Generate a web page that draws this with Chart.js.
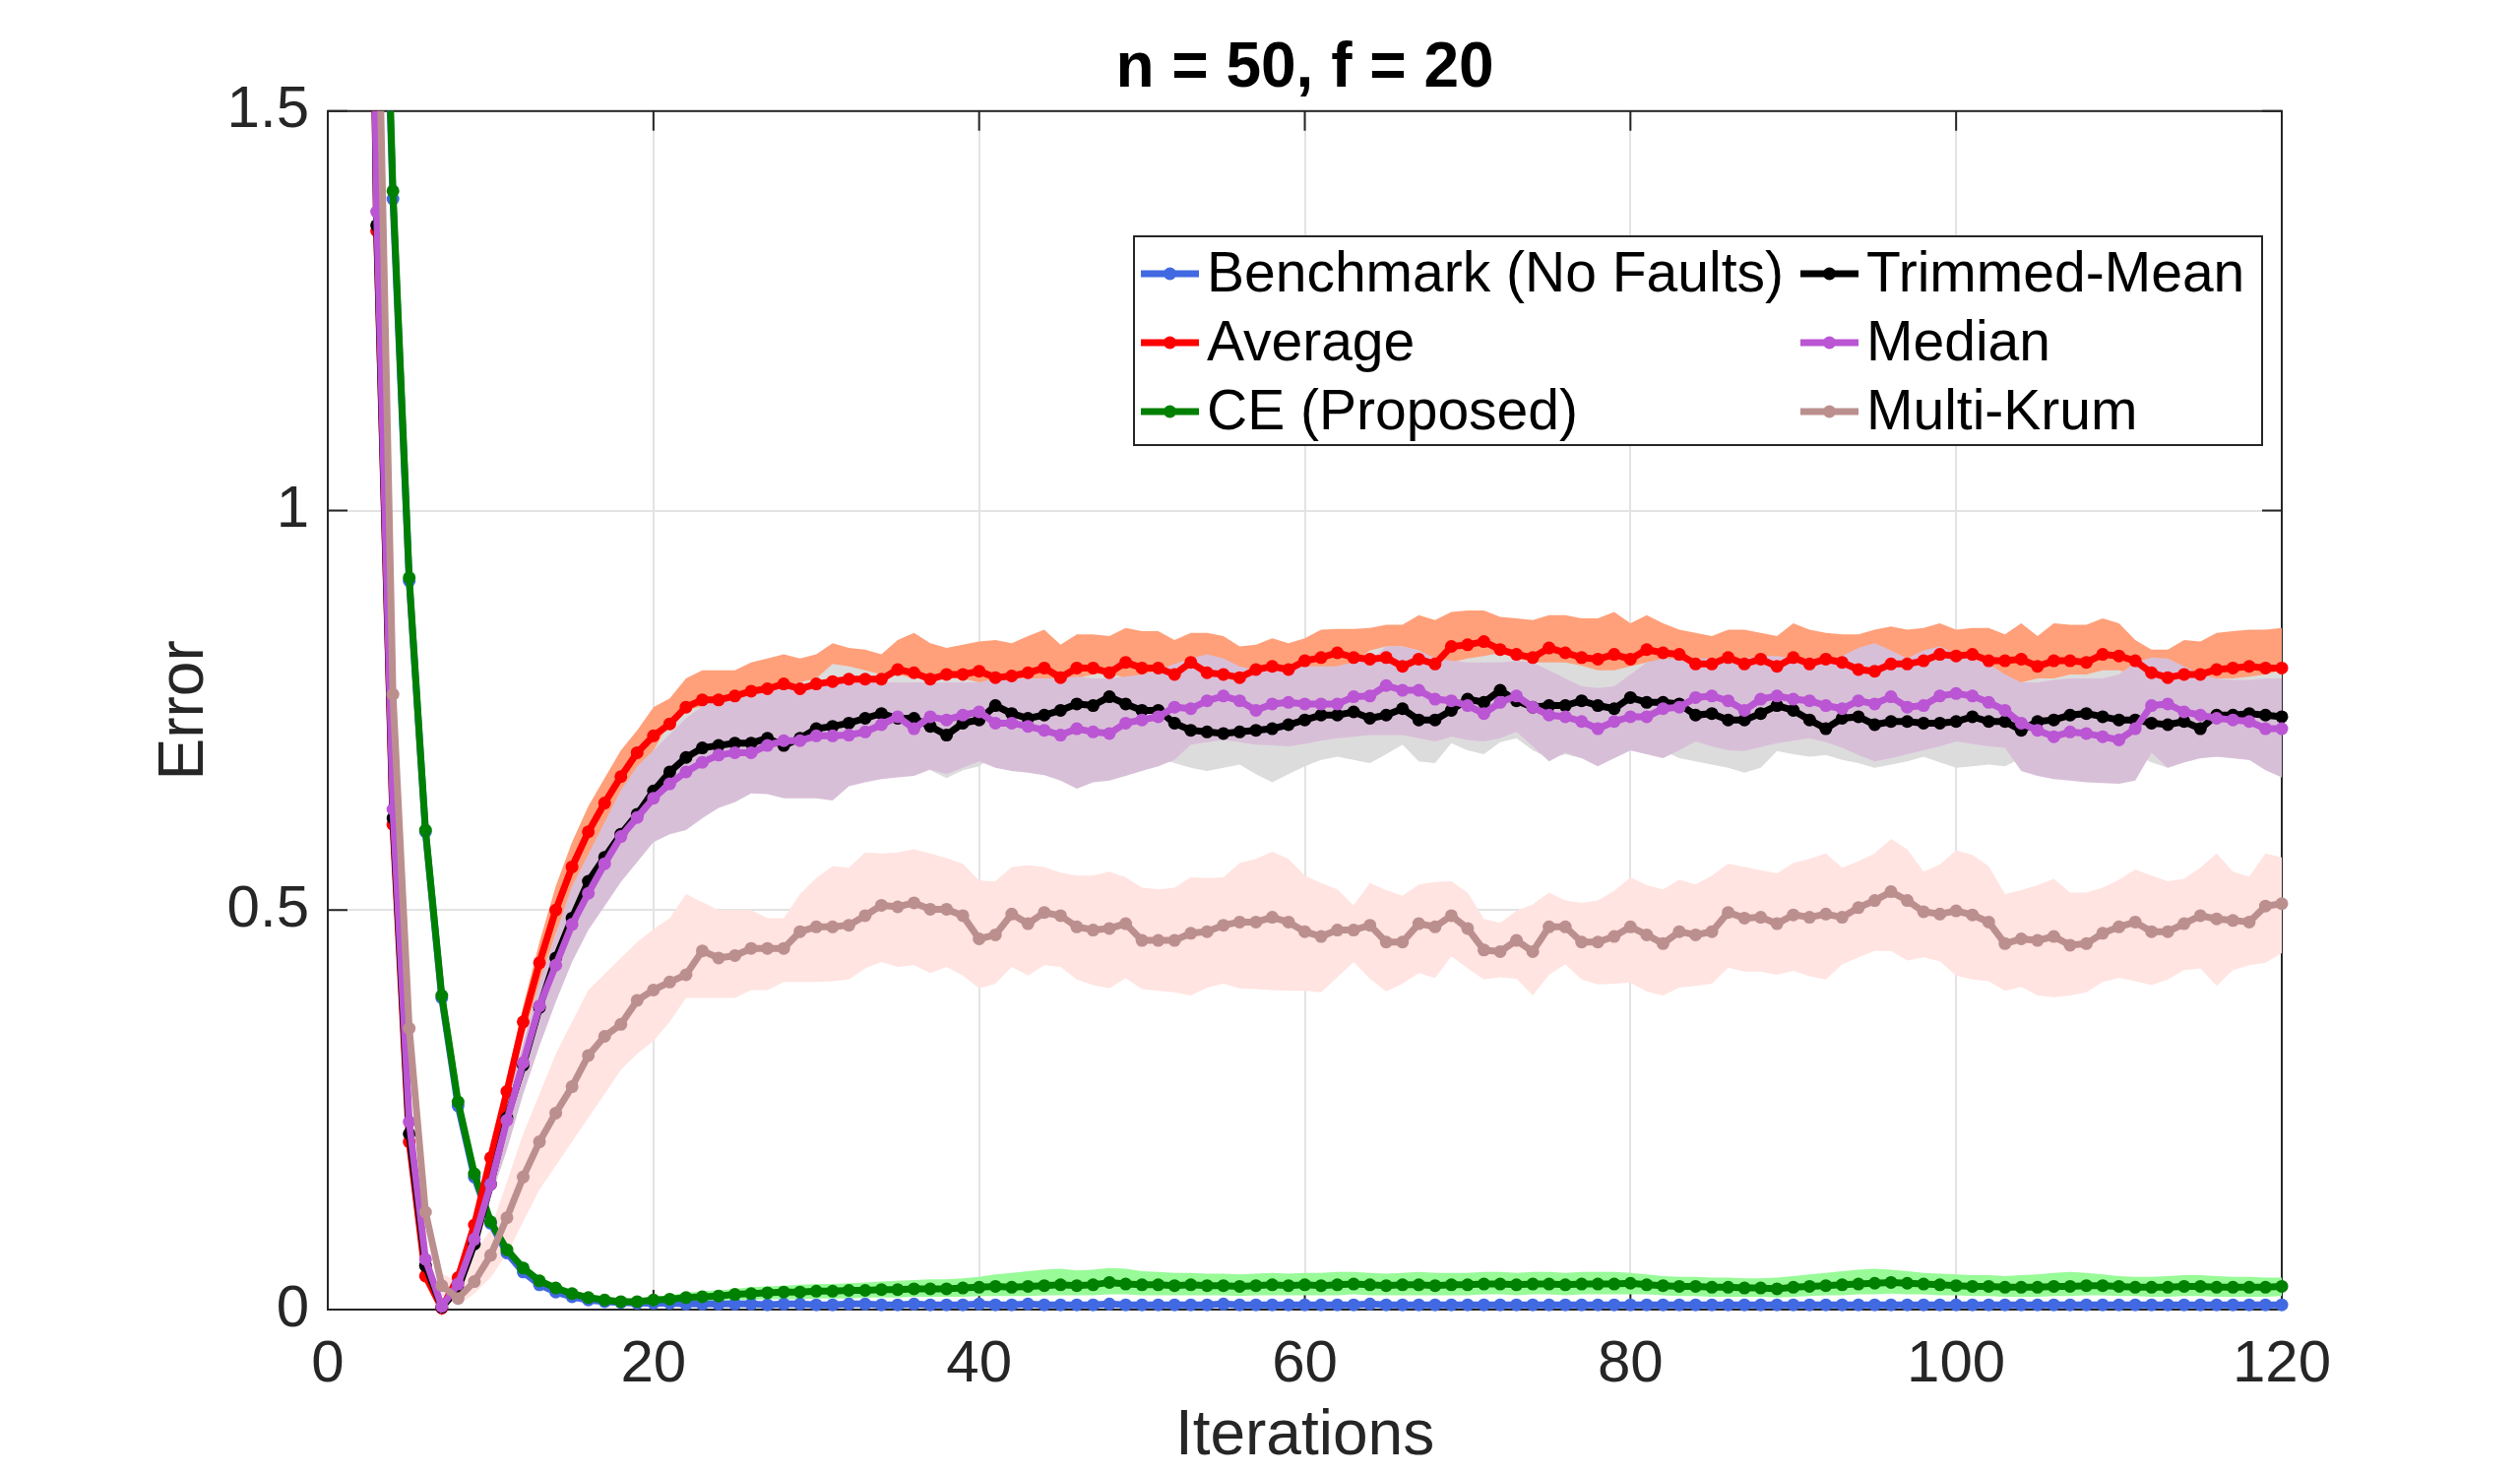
<!DOCTYPE html>
<html>
<head>
<meta charset="utf-8">
<script src="https://cdn.jsdelivr.net/npm/chart.js@4.4.1/dist/chart.umd.min.js"></script>
<style>
html,body{margin:0;padding:0;background:#fff;}
#wrap{position:relative;width:2560px;height:1498px;}
</style>
</head>
<body>
<div id="wrap"><canvas id="c"></canvas></div>
<script>
// ---------------- DATA ----------------
const chartTitle = 'n = 50, f = 20';
const xTitle = 'Iterations';
const yTitle = 'Error';
const xTickLabels = ['0', '20', '40', '60', '80', '100', '120'];
const yTickLabels = ['0', '0.5', '1', '1.5'];
const iterations = Array.from({length: 120}, (_, i) => i + 1);

const benchmark = [
4.6, 3.1, 2.05, 1.39, 0.912, 0.598, 0.39, 0.255, 0.166, 0.108,
0.071, 0.047, 0.031, 0.022, 0.016, 0.012, 0.010, 0.009, 0.008, 0.008,
0.008, 0.007, 0.007, 0.007, 0.007, 0.007, 0.006, 0.007, 0.007, 0.006,
0.006, 0.007, 0.007, 0.006, 0.006, 0.007, 0.006, 0.006, 0.006, 0.007,
0.006, 0.006, 0.007, 0.006, 0.006, 0.006, 0.006, 0.007, 0.006, 0.006,
0.006, 0.006, 0.006, 0.006, 0.007, 0.006, 0.006, 0.006, 0.006, 0.006,
0.006, 0.006, 0.006, 0.007, 0.006, 0.006, 0.006, 0.006, 0.006, 0.006,
0.006, 0.006, 0.006, 0.006, 0.006, 0.006, 0.006, 0.006, 0.006, 0.006,
0.006, 0.006, 0.006, 0.006, 0.006, 0.006, 0.006, 0.006, 0.006, 0.006,
0.006, 0.006, 0.006, 0.006, 0.006, 0.006, 0.006, 0.006, 0.006, 0.006,
0.006, 0.006, 0.006, 0.006, 0.006, 0.006, 0.006, 0.006, 0.006, 0.006,
0.006, 0.006, 0.006, 0.006, 0.006, 0.006, 0.006, 0.006, 0.006, 0.006];

const average = [
4.5, 2.9, 1.35, 0.607, 0.21, 0.042, 0.002, 0.04, 0.106, 0.19,
0.273, 0.36, 0.434, 0.5, 0.554, 0.598, 0.634, 0.667, 0.697, 0.718,
0.733, 0.754, 0.763, 0.763, 0.768, 0.774, 0.777, 0.783, 0.777, 0.783,
0.786, 0.789, 0.789, 0.789, 0.801, 0.797, 0.789, 0.795, 0.795, 0.799,
0.791, 0.793, 0.797, 0.803, 0.791, 0.803, 0.803, 0.797, 0.81, 0.803,
0.803, 0.795, 0.81, 0.797, 0.795, 0.791, 0.801, 0.805, 0.801, 0.812,
0.816, 0.822, 0.816, 0.814, 0.816, 0.805, 0.814, 0.808, 0.83, 0.832,
0.836, 0.826, 0.82, 0.816, 0.828, 0.822, 0.816, 0.814, 0.82, 0.814,
0.826, 0.822, 0.82, 0.808, 0.808, 0.816, 0.808, 0.814, 0.805, 0.816,
0.808, 0.814, 0.81, 0.801, 0.799, 0.808, 0.808, 0.812, 0.82, 0.818,
0.82, 0.812, 0.812, 0.814, 0.805, 0.812, 0.812, 0.81, 0.82, 0.818,
0.812, 0.797, 0.791, 0.795, 0.795, 0.801, 0.803, 0.805, 0.803, 0.803];

const averageUpper = [
4.52, 2.92, 1.36, 0.612, 0.215, 0.047, 0.006, 0.048, 0.118, 0.205,
0.29, 0.38, 0.46, 0.53, 0.585, 0.63, 0.665, 0.70, 0.725, 0.754,
0.765, 0.79, 0.80, 0.80, 0.80, 0.81, 0.815, 0.82, 0.815, 0.82,
0.834, 0.828, 0.826, 0.82, 0.838, 0.847, 0.834, 0.828, 0.832, 0.836,
0.838, 0.834, 0.843, 0.851, 0.832, 0.845, 0.845, 0.843, 0.853, 0.849,
0.849, 0.838, 0.847, 0.847, 0.843, 0.83, 0.832, 0.84, 0.834, 0.84,
0.851, 0.852, 0.852, 0.853, 0.857, 0.857, 0.869, 0.863, 0.873, 0.875,
0.875, 0.867, 0.865, 0.863, 0.869, 0.869, 0.865, 0.865, 0.873, 0.859,
0.869, 0.859, 0.851, 0.847, 0.843, 0.851, 0.851, 0.847, 0.843, 0.859,
0.851, 0.847, 0.845, 0.845, 0.851, 0.855, 0.851, 0.853, 0.859, 0.851,
0.853, 0.853, 0.845, 0.859, 0.843, 0.859, 0.857, 0.857, 0.865, 0.859,
0.838, 0.826, 0.826, 0.838, 0.836, 0.847, 0.849, 0.851, 0.851, 0.853];

const averageLower = [
4.48, 2.88, 1.34, 0.602, 0.205, 0.037, 0.0, 0.032, 0.094, 0.175,
0.256, 0.34, 0.408, 0.47, 0.523, 0.566, 0.603, 0.634, 0.669, 0.682,
0.701, 0.718, 0.726, 0.726, 0.736, 0.738, 0.739, 0.746, 0.739, 0.746,
0.738, 0.75, 0.752, 0.758, 0.764, 0.747, 0.744, 0.762, 0.758, 0.762,
0.744, 0.752, 0.751, 0.755, 0.75, 0.761, 0.761, 0.751, 0.767, 0.757,
0.757, 0.752, 0.773, 0.747, 0.747, 0.752, 0.77, 0.77, 0.768, 0.784,
0.781, 0.792, 0.78, 0.775, 0.775, 0.753, 0.759, 0.753, 0.787, 0.789,
0.797, 0.785, 0.775, 0.769, 0.787, 0.775, 0.767, 0.763, 0.767, 0.769,
0.783, 0.785, 0.789, 0.769, 0.773, 0.781, 0.765, 0.781, 0.767, 0.773,
0.765, 0.781, 0.775, 0.757, 0.747, 0.761, 0.765, 0.771, 0.781, 0.785,
0.787, 0.771, 0.779, 0.769, 0.767, 0.765, 0.767, 0.763, 0.775, 0.777,
0.786, 0.768, 0.756, 0.752, 0.754, 0.755, 0.757, 0.759, 0.755, 0.753];

const ceProposed = [
4.7, 3.2, 2.1, 1.40, 0.916, 0.60, 0.393, 0.26, 0.17, 0.11,
0.075, 0.052, 0.036, 0.027, 0.020, 0.015, 0.012, 0.010, 0.010, 0.012,
0.013, 0.015, 0.016, 0.017, 0.019, 0.020, 0.021, 0.022, 0.022, 0.023,
0.023, 0.024, 0.024, 0.025, 0.025, 0.026, 0.026, 0.026, 0.027, 0.028,
0.029, 0.028, 0.029, 0.030, 0.031, 0.030, 0.031, 0.034, 0.032, 0.031,
0.031, 0.030, 0.031, 0.030, 0.030, 0.029, 0.030, 0.031, 0.030, 0.031,
0.030, 0.031, 0.032, 0.031, 0.030, 0.031, 0.031, 0.030, 0.031, 0.031,
0.032, 0.032, 0.031, 0.032, 0.032, 0.031, 0.032, 0.032, 0.032, 0.033,
0.031, 0.030, 0.029, 0.029, 0.028, 0.028, 0.027, 0.027, 0.026, 0.028,
0.029, 0.030, 0.031, 0.032, 0.033, 0.034, 0.033, 0.032, 0.031, 0.030,
0.029, 0.029, 0.028, 0.028, 0.028, 0.029, 0.029, 0.030, 0.030, 0.029,
0.028, 0.028, 0.028, 0.029, 0.029, 0.028, 0.028, 0.028, 0.028, 0.029];

const ceUpper = [
4.72, 3.22, 2.11, 1.41, 0.925, 0.607, 0.399, 0.265, 0.175, 0.115,
0.079, 0.056, 0.040, 0.031, 0.024, 0.019, 0.016, 0.014, 0.014, 0.016,
0.018, 0.021, 0.023, 0.024, 0.026, 0.028, 0.029, 0.030, 0.031, 0.032,
0.032, 0.033, 0.034, 0.035, 0.036, 0.037, 0.038, 0.038, 0.039, 0.041,
0.044, 0.046, 0.048, 0.050, 0.051, 0.049, 0.050, 0.052, 0.051, 0.048,
0.047, 0.046, 0.046, 0.045, 0.045, 0.044, 0.045, 0.046, 0.045, 0.046,
0.046, 0.047, 0.047, 0.046, 0.045, 0.046, 0.047, 0.046, 0.046, 0.046,
0.047, 0.047, 0.046, 0.047, 0.047, 0.046, 0.047, 0.047, 0.047, 0.046,
0.044, 0.042, 0.041, 0.041, 0.040, 0.040, 0.039, 0.039, 0.040, 0.042,
0.044, 0.046, 0.048, 0.050, 0.051, 0.050, 0.048, 0.046, 0.045, 0.044,
0.043, 0.043, 0.042, 0.043, 0.044, 0.046, 0.047, 0.046, 0.044, 0.042,
0.041, 0.041, 0.042, 0.043, 0.043, 0.042, 0.041, 0.041, 0.040, 0.040];

const ceLower = [
4.68, 3.18, 2.09, 1.39, 0.907, 0.593, 0.387, 0.255, 0.165, 0.105,
0.071, 0.048, 0.032, 0.023, 0.016, 0.011, 0.008, 0.006, 0.006, 0.008,
0.009, 0.010, 0.011, 0.011, 0.012, 0.012, 0.013, 0.013, 0.013, 0.014,
0.014, 0.014, 0.015, 0.015, 0.015, 0.016, 0.016, 0.016, 0.016, 0.017,
0.017, 0.017, 0.017, 0.018, 0.018, 0.018, 0.018, 0.019, 0.019, 0.018,
0.018, 0.018, 0.018, 0.018, 0.018, 0.017, 0.018, 0.018, 0.018, 0.018,
0.018, 0.018, 0.019, 0.018, 0.018, 0.018, 0.018, 0.018, 0.018, 0.018,
0.019, 0.019, 0.018, 0.019, 0.019, 0.018, 0.019, 0.019, 0.019, 0.019,
0.019, 0.018, 0.017, 0.017, 0.016, 0.016, 0.016, 0.016, 0.015, 0.016,
0.017, 0.018, 0.018, 0.019, 0.019, 0.020, 0.019, 0.019, 0.018, 0.018,
0.017, 0.017, 0.016, 0.016, 0.016, 0.017, 0.017, 0.018, 0.018, 0.017,
0.017, 0.016, 0.016, 0.017, 0.017, 0.016, 0.016, 0.016, 0.016, 0.017];

const trimmedMean = [
4.4, 2.9, 1.357, 0.615, 0.22, 0.055, 0.003, 0.026, 0.082, 0.157,
0.24, 0.306, 0.378, 0.44, 0.49, 0.536, 0.566, 0.595, 0.62, 0.649,
0.673, 0.691, 0.703, 0.706, 0.709, 0.709, 0.715, 0.706, 0.715, 0.727,
0.73, 0.734, 0.74, 0.746, 0.74, 0.74, 0.73, 0.719, 0.734, 0.738,
0.756, 0.746, 0.74, 0.744, 0.75, 0.758, 0.756, 0.767, 0.758, 0.75,
0.75, 0.734, 0.725, 0.723, 0.721, 0.723, 0.725, 0.727, 0.732, 0.738,
0.744, 0.744, 0.748, 0.74, 0.744, 0.752, 0.738, 0.738, 0.75, 0.764,
0.76, 0.775, 0.762, 0.754, 0.756, 0.756, 0.762, 0.756, 0.752, 0.766,
0.76, 0.76, 0.758, 0.744, 0.746, 0.738, 0.738, 0.746, 0.756, 0.75,
0.738, 0.727, 0.74, 0.742, 0.732, 0.736, 0.736, 0.734, 0.734, 0.736,
0.742, 0.736, 0.736, 0.725, 0.736, 0.738, 0.744, 0.746, 0.742, 0.738,
0.738, 0.734, 0.732, 0.736, 0.727, 0.744, 0.744, 0.746, 0.744, 0.742];

const trimmedUpper = [
4.42, 2.92, 1.365, 0.622, 0.228, 0.062, 0.008, 0.034, 0.092, 0.17,
0.255, 0.325, 0.40, 0.465, 0.52, 0.565, 0.60, 0.635, 0.665, 0.70,
0.735, 0.75, 0.755, 0.76, 0.77, 0.775, 0.78, 0.78, 0.785, 0.79,
0.808, 0.805, 0.80, 0.795, 0.795, 0.79, 0.79, 0.79, 0.79, 0.785,
0.778, 0.776, 0.778, 0.778, 0.78, 0.79, 0.795, 0.797, 0.79, 0.79,
0.79, 0.79, 0.795, 0.79, 0.79, 0.785, 0.785, 0.79, 0.795, 0.80,
0.80, 0.805, 0.81, 0.825, 0.83, 0.83, 0.825, 0.81, 0.81, 0.815,
0.818, 0.822, 0.815, 0.81, 0.81, 0.81, 0.806, 0.80, 0.80, 0.805,
0.81, 0.812, 0.81, 0.80, 0.80, 0.80, 0.80, 0.80, 0.80, 0.80,
0.795, 0.79, 0.79, 0.79, 0.79, 0.79, 0.79, 0.795, 0.80, 0.80,
0.80, 0.79, 0.785, 0.785, 0.79, 0.79, 0.795, 0.795, 0.80, 0.80,
0.795, 0.79, 0.79, 0.79, 0.79, 0.79, 0.79, 0.792, 0.795, 0.80];

const trimmedLower = [
4.38, 2.88, 1.35, 0.608, 0.212, 0.048, 0.0, 0.018, 0.072, 0.14,
0.215, 0.28, 0.345, 0.40, 0.45, 0.49, 0.52, 0.545, 0.57, 0.595,
0.61, 0.625, 0.635, 0.64, 0.645, 0.65, 0.655, 0.65, 0.655, 0.665,
0.67, 0.675, 0.68, 0.685, 0.68, 0.68, 0.675, 0.665, 0.675, 0.68,
0.695, 0.69, 0.685, 0.685, 0.69, 0.695, 0.695, 0.70, 0.695, 0.69,
0.69, 0.684, 0.678, 0.674, 0.678, 0.682, 0.67, 0.66, 0.67, 0.68,
0.688, 0.692, 0.688, 0.684, 0.695, 0.707, 0.686, 0.684, 0.709, 0.70,
0.695, 0.71, 0.715, 0.70, 0.69, 0.695, 0.69, 0.685, 0.69, 0.70,
0.695, 0.70, 0.69, 0.686, 0.682, 0.678, 0.672, 0.678, 0.699, 0.695,
0.692, 0.694, 0.688, 0.684, 0.678, 0.682, 0.686, 0.692, 0.685, 0.678,
0.68, 0.682, 0.68, 0.69, 0.695, 0.70, 0.70, 0.70, 0.70, 0.70,
0.695, 0.685, 0.678, 0.685, 0.69, 0.692, 0.69, 0.688, 0.69, 0.69];

const median = [
4.4, 2.95, 1.374, 0.626, 0.235, 0.063, 0.004, 0.032, 0.088, 0.157,
0.237, 0.309, 0.38, 0.431, 0.482, 0.521, 0.558, 0.592, 0.616, 0.64,
0.658, 0.673, 0.685, 0.694, 0.697, 0.697, 0.706, 0.712, 0.712, 0.718,
0.718, 0.719, 0.723, 0.732, 0.742, 0.727, 0.742, 0.738, 0.744, 0.748,
0.734, 0.734, 0.73, 0.725, 0.719, 0.727, 0.723, 0.721, 0.734, 0.738,
0.742, 0.754, 0.752, 0.762, 0.768, 0.762, 0.75, 0.758, 0.76, 0.758,
0.758, 0.758, 0.767, 0.768, 0.781, 0.775, 0.775, 0.764, 0.762, 0.756,
0.746, 0.76, 0.768, 0.754, 0.744, 0.742, 0.736, 0.727, 0.736, 0.742,
0.742, 0.752, 0.754, 0.766, 0.768, 0.762, 0.75, 0.764, 0.768, 0.764,
0.762, 0.756, 0.752, 0.762, 0.758, 0.767, 0.754, 0.756, 0.768, 0.771,
0.768, 0.76, 0.75, 0.734, 0.725, 0.717, 0.723, 0.721, 0.717, 0.713,
0.727, 0.756, 0.758, 0.748, 0.744, 0.74, 0.738, 0.736, 0.727, 0.727];

const medianUpper = [
4.42, 2.97, 1.38, 0.632, 0.242, 0.07, 0.008, 0.04, 0.098, 0.17,
0.26, 0.335, 0.41, 0.47, 0.53, 0.57, 0.61, 0.65, 0.68, 0.70,
0.72, 0.74, 0.755, 0.765, 0.77, 0.775, 0.775, 0.78, 0.78, 0.785,
0.785, 0.785, 0.785, 0.785, 0.785, 0.785, 0.785, 0.785, 0.785, 0.785,
0.79, 0.79, 0.79, 0.79, 0.79, 0.792, 0.79, 0.79, 0.792, 0.795,
0.80, 0.808, 0.815, 0.82, 0.815, 0.805, 0.80, 0.80, 0.805, 0.805,
0.805, 0.805, 0.81, 0.812, 0.83, 0.83, 0.825, 0.815, 0.812, 0.81,
0.81, 0.81, 0.812, 0.81, 0.80, 0.79, 0.78, 0.778, 0.78, 0.795,
0.81, 0.815, 0.815, 0.815, 0.815, 0.815, 0.815, 0.818, 0.818, 0.815,
0.815, 0.812, 0.818, 0.828, 0.834, 0.825, 0.815, 0.825, 0.83, 0.82,
0.815, 0.808, 0.795, 0.785, 0.785, 0.788, 0.79, 0.79, 0.79, 0.795,
0.81, 0.816, 0.815, 0.805, 0.795, 0.79, 0.788, 0.788, 0.79, 0.79];

const medianLower = [
4.38, 2.93, 1.368, 0.62, 0.228, 0.056, 0.0, 0.024, 0.078, 0.14,
0.2, 0.27, 0.33, 0.385, 0.435, 0.475, 0.505, 0.535, 0.56, 0.585,
0.595, 0.60, 0.615, 0.628, 0.635, 0.646, 0.645, 0.64, 0.64, 0.64,
0.637, 0.655, 0.66, 0.664, 0.666, 0.668, 0.676, 0.67, 0.678, 0.686,
0.678, 0.674, 0.672, 0.669, 0.662, 0.652, 0.66, 0.662, 0.668, 0.674,
0.68, 0.688, 0.707, 0.71, 0.713, 0.71, 0.707, 0.706, 0.705, 0.708,
0.712, 0.715, 0.717, 0.719, 0.719, 0.719, 0.715, 0.711, 0.717, 0.713,
0.711, 0.715, 0.723, 0.705, 0.686, 0.697, 0.69, 0.68, 0.69, 0.70,
0.695, 0.69, 0.70, 0.711, 0.705, 0.70, 0.699, 0.704, 0.709, 0.712,
0.715, 0.71, 0.703, 0.694, 0.686, 0.69, 0.695, 0.70, 0.705, 0.711,
0.708, 0.705, 0.703, 0.674, 0.668, 0.664, 0.662, 0.66, 0.659, 0.658,
0.662, 0.697, 0.678, 0.685, 0.69, 0.692, 0.69, 0.688, 0.675, 0.666];

const multiKrum = [
4.8, 3.2, 1.75, 0.77, 0.352, 0.122, 0.03, 0.014, 0.035, 0.068,
0.115, 0.166, 0.21, 0.246, 0.279, 0.318, 0.342, 0.357, 0.387, 0.40,
0.41, 0.419, 0.449, 0.44, 0.443, 0.452, 0.452, 0.452, 0.473, 0.479,
0.479, 0.481, 0.493, 0.506, 0.504, 0.509, 0.501, 0.501, 0.493, 0.464,
0.469, 0.495, 0.483, 0.497, 0.493, 0.479, 0.475, 0.477, 0.483, 0.462,
0.462, 0.462, 0.471, 0.473, 0.481, 0.485, 0.485, 0.491, 0.485, 0.473,
0.467, 0.475, 0.475, 0.481, 0.46, 0.46, 0.483, 0.479, 0.493, 0.477,
0.45, 0.448, 0.462, 0.448, 0.479, 0.479, 0.46, 0.46, 0.467, 0.479,
0.469, 0.458, 0.473, 0.469, 0.473, 0.497, 0.49, 0.491, 0.483, 0.494,
0.491, 0.495, 0.491, 0.503, 0.512, 0.523, 0.512, 0.498, 0.495, 0.499,
0.494, 0.485, 0.458, 0.464, 0.462, 0.467, 0.456, 0.458, 0.471, 0.479,
0.485, 0.473, 0.473, 0.483, 0.493, 0.489, 0.487, 0.485, 0.505, 0.508];

const multiKrumUpper = [
4.82, 3.22, 1.77, 0.785, 0.365, 0.135, 0.045, 0.035, 0.07, 0.10,
0.16, 0.22, 0.27, 0.32, 0.36, 0.40, 0.42, 0.44, 0.46, 0.476,
0.49, 0.52, 0.51, 0.50, 0.50, 0.50, 0.49, 0.49, 0.52, 0.54,
0.555, 0.553, 0.572, 0.571, 0.572, 0.576, 0.571, 0.565, 0.558, 0.537,
0.536, 0.554, 0.556, 0.554, 0.547, 0.543, 0.543, 0.548, 0.541, 0.528,
0.526, 0.528, 0.541, 0.54, 0.541, 0.559, 0.564, 0.573, 0.564, 0.543,
0.534, 0.526, 0.506, 0.534, 0.525, 0.518, 0.532, 0.535, 0.536, 0.522,
0.489, 0.484, 0.499, 0.507, 0.522, 0.512, 0.509, 0.512, 0.524, 0.541,
0.531, 0.526, 0.538, 0.532, 0.543, 0.558, 0.554, 0.55, 0.546, 0.559,
0.564, 0.571, 0.553, 0.561, 0.571, 0.589, 0.576, 0.548, 0.557, 0.575,
0.569, 0.555, 0.52, 0.525, 0.531, 0.539, 0.522, 0.522, 0.528, 0.538,
0.551, 0.543, 0.536, 0.539, 0.553, 0.571, 0.548, 0.542, 0.571, 0.566];

const multiKrumLower = [
4.78, 3.18, 1.73, 0.755, 0.34, 0.11, 0.018, 0.005, 0.02, 0.04,
0.07, 0.11, 0.15, 0.18, 0.21, 0.24, 0.27, 0.30, 0.32, 0.336,
0.36, 0.39, 0.39, 0.39, 0.39, 0.40, 0.40, 0.41, 0.41, 0.41,
0.411, 0.413, 0.427, 0.435, 0.429, 0.431, 0.421, 0.429, 0.418, 0.402,
0.408, 0.429, 0.418, 0.431, 0.429, 0.413, 0.406, 0.402, 0.415, 0.401,
0.399, 0.397, 0.393, 0.403, 0.408, 0.402, 0.401, 0.40, 0.399, 0.399,
0.397, 0.416, 0.435, 0.414, 0.398, 0.408, 0.421, 0.415, 0.442, 0.427,
0.413, 0.416, 0.414, 0.393, 0.419, 0.432, 0.413, 0.407, 0.408, 0.409,
0.398, 0.393, 0.403, 0.405, 0.408, 0.428, 0.423, 0.423, 0.419, 0.424,
0.417, 0.413, 0.432, 0.441, 0.449, 0.449, 0.437, 0.441, 0.436, 0.418,
0.413, 0.411, 0.399, 0.404, 0.393, 0.391, 0.393, 0.397, 0.41, 0.415,
0.411, 0.406, 0.413, 0.425, 0.427, 0.405, 0.425, 0.431, 0.434, 0.446];

// ---------------- STYLE ----------------
const FONT = "'Liberation Sans', Arial, Helvetica, sans-serif";
const AXIS_COLOR = '#262626';
const PLOT = {left: 333, right: 2318, top: 113, bottom: 1330};
const LINE_W = 7;
const MARK_R = 6.5;

const xy = arr => iterations.map((x, i) => ({x: x, y: arr[i]}));

function lineDS(label, arr, color, order) {
  return {
    label: label, data: xy(arr), borderColor: color, backgroundColor: color,
    borderWidth: LINE_W, pointRadius: MARK_R, pointHoverRadius: MARK_R, pointBorderWidth: 0,
    pointBackgroundColor: color, fill: false, tension: 0, order: order,
    clip: {left: 0, top: 0, right: 8, bottom: 8}
  };
}
function bandDS(label, arr, color, order, fill) {
  return {
    label: label, data: xy(arr), borderColor: 'rgba(0,0,0,0)', borderWidth: 0,
    backgroundColor: color, pointRadius: 0, pointHoverRadius: 0, fill: fill,
    tension: 0, order: order, clip: 0
  };
}

const datasets = [
  bandDS('avgU', averageUpper, '#FFA07A', 20, '+1'),
  bandDS('avgL', averageLower, '#FFA07A', 20, false),
  bandDS('tmU', trimmedUpper, '#DCDCDC', 19, '+1'),
  bandDS('tmL', trimmedLower, '#DCDCDC', 19, false),
  bandDS('medU', medianUpper, '#D8BFD8', 18, '+1'),
  bandDS('medL', medianLower, '#D8BFD8', 18, false),
  bandDS('mkU', multiKrumUpper, '#FFE4E1', 17, '+1'),
  bandDS('mkL', multiKrumLower, '#FFE4E1', 17, false),
  bandDS('ceU', ceUpper, '#98FB98', 16, '+1'),
  bandDS('ceL', ceLower, '#98FB98', 16, false),
  lineDS('Benchmark (No Faults)', benchmark, '#4169E1', 6),
  lineDS('CE (Proposed)', ceProposed, '#008000', 5),
  lineDS('Average', average, '#FF0000', 4),
  lineDS('Trimmed-Mean', trimmedMean, '#000000', 3),
  lineDS('Median', median, '#BA55D3', 2),
  lineDS('Multi-Krum', multiKrum, '#BC8F8F', 1)
];

// legend layout: two columns, MATLAB order
const legendColumns = [
  ['Benchmark (No Faults)', 'Average', 'CE (Proposed)'],
  ['Trimmed-Mean', 'Median', 'Multi-Krum']
];

const boxPlugin = {
  id: 'matlabBox',
  beforeDatasetsDraw(chart) {
    const {ctx, chartArea: a, scales} = chart;
    ctx.save();
    ctx.strokeStyle = AXIS_COLOR;
    ctx.lineWidth = 2;
    ctx.strokeRect(a.left, a.top, a.right - a.left, a.bottom - a.top);
    const TL = 20;
    ctx.beginPath();
    scales.x.ticks.forEach(t => {
      const px = scales.x.getPixelForValue(t.value);
      ctx.moveTo(px, a.bottom); ctx.lineTo(px, a.bottom - TL);
      ctx.moveTo(px, a.top); ctx.lineTo(px, a.top + TL);
    });
    scales.y.ticks.forEach(t => {
      const py = scales.y.getPixelForValue(t.value);
      ctx.moveTo(a.left, py); ctx.lineTo(a.left + TL, py);
      ctx.moveTo(a.right, py); ctx.lineTo(a.right - TL, py);
    });
    ctx.stroke();
    ctx.restore();
  }
};

const legendPlugin = {
  id: 'matlabLegend',
  afterDraw(chart) {
    const ctx = chart.ctx;
    const box = {left: 1152, top: 240, right: 2298, bottom: 452};
    const rowY = [278, 348, 418];
    const colX = [1159, 1829];
    ctx.save();
    ctx.fillStyle = '#ffffff';
    ctx.fillRect(box.left, box.top, box.right - box.left, box.bottom - box.top);
    ctx.strokeStyle = AXIS_COLOR;
    ctx.lineWidth = 2;
    ctx.strokeRect(box.left, box.top, box.right - box.left, box.bottom - box.top);
    ctx.font = '57px ' + FONT;
    ctx.textBaseline = 'middle';
    ctx.textAlign = 'left';
    legendColumns.forEach((col, ci) => {
      col.forEach((label, ri) => {
        const ds = chart.data.datasets.find(d => d.label === label);
        const x0 = colX[ci], y = rowY[ri];
        ctx.strokeStyle = ds.borderColor;
        ctx.lineWidth = ds.borderWidth;
        ctx.beginPath(); ctx.moveTo(x0, y); ctx.lineTo(x0 + 59, y); ctx.stroke();
        ctx.fillStyle = ds.borderColor;
        ctx.beginPath(); ctx.arc(x0 + 29.5, y, ds.pointRadius, 0, Math.PI * 2); ctx.fill();
        ctx.fillStyle = '#000000';
        ctx.fillText(label, x0 + 67, y + 2);
      });
    });
    ctx.restore();
  }
};

Chart.defaults.font.family = FONT;

new Chart(document.getElementById('c'), {
  type: 'line',
  data: {datasets: datasets},
  plugins: [boxPlugin, legendPlugin],
  options: {
    responsive: true,
    maintainAspectRatio: false,
    animation: false,
    events: [],
    layout: {padding: {left: 150, right: 2560 - PLOT.right, top: 0, bottom: 0}},
    plugins: {
      legend: {display: false},
      tooltip: {enabled: false},
      title: {
        display: true, text: chartTitle, fullSize: false, color: '#000000',
        font: {size: 64, weight: 'bold', family: FONT, lineHeight: 1.2},
        padding: {top: 32, bottom: 4}
      },
      filler: {propagate: false}
    },
    scales: {
      x: {
        type: 'linear', min: 0, max: 120,
        afterFit(s) { s.height = 1498 - PLOT.bottom; },
        afterBuildTicks(s) { s.ticks = xTickLabels.map(v => ({value: Number(v)})); },
        ticks: {
          callback: (v, i) => xTickLabels[i],
          font: {size: 60, family: FONT}, color: AXIS_COLOR, padding: 20, maxRotation: 0
        },
        grid: {color: '#e3e3e3', lineWidth: 2, drawTicks: false},
        border: {display: false},
        title: {display: true, text: xTitle, color: AXIS_COLOR,
          font: {size: 64, family: FONT, lineHeight: 1.2}, padding: {top: 0, bottom: 0}}
      },
      y: {
        type: 'linear', min: 0, max: 1.5,
        afterFit(s) { s.width = PLOT.left - 150; },
        afterBuildTicks(s) { s.ticks = yTickLabels.map(v => ({value: Number(v)})); },
        ticks: {
          callback: (v, i) => yTickLabels[i],
          font: {size: 60, family: FONT}, color: AXIS_COLOR, padding: 19
        },
        grid: {color: '#e3e3e3', lineWidth: 2, drawTicks: false},
        border: {display: false},
        title: {display: true, text: yTitle, color: AXIS_COLOR,
          font: {size: 64, family: FONT, lineHeight: 1.2}, padding: {top: 0, bottom: 0}}
      }
    }
  }
});
</script>
</body>
</html>
